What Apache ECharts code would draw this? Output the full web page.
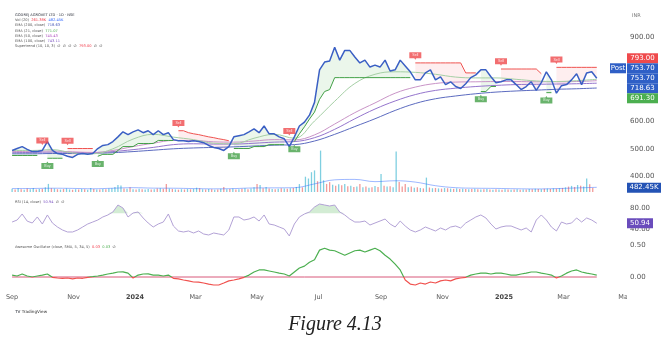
<!DOCTYPE html>
<html>
<head>
<meta charset="utf-8">
<title>GODREJ AGROVET</title>
<script src="https://cdn.jsdelivr.net/npm/echarts@6/dist/echarts.min.js"></script>
<style>
html,body{margin:0;padding:0;background:#ffffff;}
#chart{width:670px;height:355px;}
</style>
</head>
<body>
<div id="chart"></div>
<script>
// ================= DATA =================
const axisStart = '2023-08-20';
const axisEnd = '2025-05-02';
const tickDates = ['2023-09-01','2023-11-01','2024-01-01','2024-03-01','2024-05-01','2024-07-01','2024-09-01','2024-11-01','2025-01-01','2025-03-01','2025-05-01'];
const tickLabels = ['Sep','Nov','2024','Mar','May','Jul','Sep','Nov','2025','Mar','May'];

const sampleStart = '2023-09-01';
const priceStepDays = 5;
const price = [
 494,501,508,498,490,490,494,526,494,483,
 480,473,469,480,483,480,483,501,512,515,
 526,543,561,551,561,568,558,565,551,565,
 551,558,533,529,529,526,529,526,522,512,
 505,501,494,508,543,547,551,561,572,558,
 582,554,554,543,536,508,543,582,596,621,
 667,784,812,816,865,819,854,854,830,809,
 819,794,801,794,819,780,784,819,798,777,
 748,748,773,784,748,759,731,741,724,717,
 734,756,766,784,784,759,738,741,748,748,
 731,713,724,741,710,738,777,748,700,727,
 731,748,770,731,773,777,753.7
];
const stUp = [
 476,476,476,476,476,476,null,466,466,466,
 466,null,null,null,null,null,null,473,480,480,
 480,494,508,508,508,519,519,519,519,530,
 530,530,530,null,null,null,null,null,null,null,
 null,null,null,null,501,501,501,501,508,508,
 508,515,515,515,515,null,526,554,579,607,
 632,678,706,713,756,756,756,756,756,756,
 756,756,756,756,756,756,756,756,756,756,
 null,null,null,null,null,null,null,null,null,null,
 null,null,null,706,706,724,724,null,null,null,
 null,null,null,null,null,null,702,702,null,null,
 null,null,null,null,null,null,null
];
const stDown = [
 null,null,null,null,null,null,502,null,null,null,
 null,501,501,501,501,501,501,null,null,null,
 null,null,null,null,null,null,null,null,null,null,
 null,null,null,565,565,558,554,551,547,543,
 540,536,533,529,null,null,null,null,null,null,
 null,null,null,null,null,536,null,null,null,null,
 null,null,null,null,null,null,null,null,null,null,
 null,null,null,null,null,null,null,null,null,null,
 809,809,809,809,809,809,809,809,809,809,
 773,773,773,null,null,null,null,787,787,787,
 787,787,787,787,787,770,null,null,793,793,
 793,793,793,793,793,793,793
];
const sellIdx = [6, 11, 33, 55, 80, 97, 108];
const buyIdx = [7, 17, 44, 56, 93, 106];

const emaStepDays = 20;
const ema21  = [494,494,497,485,482,500,535,552,542,533,520,518,538,552,538,600,671,735,768,777,775,768,758,755,755,750,744,742,745,750];
const ema50  = [490,491,492,489,487,494,508,520,530,530,525,524,528,533,532,550,589,630,665,700,722,735,740,741,742,742,741,741,742,745];
const ema100 = [486,487,488,487,486,490,497,505,515,518,517,517,520,524,526,540,570,608,643,672,695,710,718,724,728,731,732,733,734,736];
const ema200 = [482,482,483,483,484,486,490,495,500,503,505,507,510,513,515,528,552,580,608,638,663,680,690,698,704,708,711,714,716,718.63];

const volStepDays = 3;
// volume in thousands; sign gives bar colour (+ up day, - down day)
const volume = [
 350,-280,420,-300,260,-380,310,450,-290,330,
 -360,520,900,-420,380,-310,270,-330,400,290,
 -250,310,-280,340,-300,260,450,-320,280,-270,
 330,-300,380,420,560,780,720,-400,350,-520,
 300,-280,360,-310,290,330,-270,310,-380,420,
 -350,-880,380,-330,290,-260,310,-280,330,-300,
 360,480,-420,300,-280,330,-310,260,-290,350,
 -560,300,-330,380,-290,310,-350,420,-300,380,
 520,-900,780,-420,560,-380,330,-300,360,-420,
 380,-360,420,-450,560,880,-520,1700,1500,2200,
 2400,-1200,4600,1300,-900,-1100,800,-700,850,-750,
 900,-650,700,-560,620,-880,540,-600,480,-520,
 680,-560,2000,-700,600,-650,520,4500,-1100,-600,
 -880,520,-600,480,-520,450,-400,1600,-500,420,
 -450,400,-380,440,-420,380,-350,400,-330,360,
 -320,300,-340,360,-300,280,-310,330,-290,260,
 -300,280,-260,300,-280,250,-270,310,-260,290,
 -280,320,-300,350,-330,310,-360,380,-340,400,
 -380,420,-450,520,-600,680,-560,780,-700,600,
 1500,-850,-482.45
];
const volMA = [380,390,420,400,360,420,480,430,420,380,350,380,450,460,480,900,1350,1400,1150,1250,1100,700,480,420,400,360,340,380,450,520];

const rsi = [
 53.3,57.1,68.6,55,51.4,62.9,49.5,66.7,51.4,43.8,
 38.1,34.3,34.3,38.1,43.8,49.5,53.3,57.1,62.9,66.7,
 72.4,85.7,80,62.9,70.5,72.4,61,51.4,43.8,49.5,
 53.3,68.6,45.7,36.2,34.3,36.2,32.4,36.2,30.5,28.6,
 32.4,30.5,28.6,38.1,62.9,62.9,57.1,59,62.9,55.2,
 66.7,49.5,47.6,43.8,40,26.7,49.5,62.9,68.6,72.4,
 81.9,87.6,85.7,83.8,85.7,72.4,66.7,59,53.3,53.3,
 55.2,47.6,51.4,55.2,59,49.5,43.8,55.2,45.7,38.1,
 34.3,38.1,43.8,40,36.2,41.9,38.1,43.8,45.7,41.9,
 51.4,57.1,62.9,66.7,61,49.5,40,43.8,45.7,45.7,
 41.9,38.1,41.9,34.3,57.1,66.7,57.1,43.8,36.2,53.3,
 49.5,51.4,61,53.3,61,57.1,50.94
];
const ao = [
 0.03,0.016,0.047,0.016,0.0,0.016,0.03,0.047,-0.005,-0.016,
 -0.02,-0.016,-0.03,-0.016,-0.02,-0.005,0.005,0.016,0.03,0.047,
 0.06,0.078,0.08,0.06,-0.016,0.03,0.047,0.05,0.03,0.03,
 0.016,0.03,-0.02,-0.03,-0.047,-0.06,-0.078,-0.08,-0.094,-0.11,
 -0.125,-0.125,-0.094,-0.06,-0.047,-0.03,-0.005,0.03,0.078,0.11,
 0.11,0.094,0.078,0.06,0.047,0.016,0.078,0.14,0.17,0.23,
 0.27,0.42,0.45,0.42,0.41,0.375,0.34,0.375,0.41,0.42,
 0.39,0.42,0.45,0.41,0.34,0.28,0.2,0.11,-0.047,-0.11,
 -0.125,-0.094,-0.11,-0.078,-0.094,-0.06,-0.047,-0.06,-0.03,-0.016,
 -0.005,0.03,0.047,0.06,0.06,0.047,0.06,0.06,0.047,0.03,
 0.03,0.047,0.06,0.078,0.078,0.06,0.047,0.03,-0.016,0.016,
 0.06,0.094,0.11,0.078,0.06,0.047,0.03
];
const aoZeroLevel = 0;

const priceTickLabels = ['400.00','500.00','600.00','900.00'];
const rsiTickLabels = ['40.00','80.00'];
const aoTickLabels = ['0.00','0.50'];

const priceMarkers = [
 {text:'793.00', value:793.00, color:'#ef4a4c'},
 {text:'753.70', value:753.70, color:'#2f5fc6', tag:'Post'},
 {text:'753.70', value:753.70, color:'#2f5fc6', anchor:true},
 {text:'718.63', value:718.63, color:'#2f5fc6'},
 {text:'691.30', value:691.30, color:'#4caf50'}
];
const volLast = {text:'482.45K', value:482.45, color:'#2453b5'};
const rsiLast = {text:'50.94', value:50.94, color:'#6a4cbc'};

const legendRows = [
 [['GODREJ AGROVET LTD · 1D · NSE','#2a2e39']],
 [['Vol (20)  ','#555'],['261.38K','#f23645'],['  482.45K','#2962ff']],
 [['EMA (200, close)  ','#555'],['718.63','#3f51b5']],
 [['EMA (21, close)  ','#555'],['771.07','#4caf50']],
 [['EMA (50, close)  ','#555'],['745.43','#ab47bc']],
 [['EMA (100, close)  ','#555'],['743.11','#7e57c2']],
 [['Supertrend (10, 10, 3)  ∅  ∅  ∅  ∅  ','#555'],['793.00','#f23645'],['  ∅  ∅','#555']]
];
const rsiLegend = [['RSI (14, close)  ','#555'],['50.94','#7e57c2'],['  ∅  ∅','#555']];
const aoLegend = [['Awesome Oscillator (close, SMA, 5, 34, 5)  ','#555'],['0.03','#f23645'],['  0.03','#4caf50'],['  ∅','#555']];

// ================= BUILD =================
const DAY = 86400000;
function parseD(s){const p=s.split('-').map(Number);return Date.UTC(p[0],p[1]-1,p[2]);}
function fmtD(t){const d=new Date(t);return d.getUTCFullYear()+'-'+String(d.getUTCMonth()+1).padStart(2,'0')+'-'+String(d.getUTCDate()).padStart(2,'0');}
const cats=[];
for(let t=parseD(axisStart);t<=parseD(axisEnd);t+=DAY)cats.push(fmtD(t));
const idxOf = s => Math.round((parseD(s)-parseD(axisStart))/DAY);
const base = idxOf(sampleStart);
const px = k => base + k*priceStepDays;
const ex = j => base + j*emaStepDays;
const vx = k => base + k*volStepDays;

const priceData = price.map((v,k)=>[px(k),v]);
const upBase = stUp.map((v,k)=>[px(k), v==null?null:v]);
const upBand = stUp.map((v,k)=>[px(k), v==null?null:price[k]-v]);
const dnBase = stDown.map((v,k)=>[px(k), v==null?null:price[k]]);
const dnBand = stDown.map((v,k)=>[px(k), v==null?null:v-price[k]]);
const sellData = sellIdx.map(k=>[px(k), stDown[k]]);
const buyData = buyIdx.map(k=>[px(k), stUp[k]]);
const emaSer = arr => arr.map((v,j)=>[ex(j),v]);
const volData = volume.map((v,k)=>({value:[vx(k),Math.abs(v)], itemStyle:{color: v>=0 ? '#7fcfe0' : '#f29a98'}}));
const volMAData = volMA.map((v,j)=>[ex(j),v]);
const rsiData = rsi.map((v,k)=>[px(k),v]);
const rsiObBase = rsi.map((v,k)=>[px(k),70]);
const rsiObBand = rsi.map((v,k)=>[px(k),Math.max(0,v-70)]);
const aoData = ao.map((v,k)=>[px(k),v]);
const aoZero = [[px(0),aoZeroLevel],[px(ao.length-1),aoZeroLevel]];

const G = {left:0, right:44, outerBoundsMode:'none', containLabel:false};
const hiddenY = {axisLine:{show:false}, axisTick:{show:false}, splitLine:{show:false}};

function lineS(name, data, color, xi, extra){
  return Object.assign({name, type:'line', data, xAxisIndex:xi, yAxisIndex:xi, symbol:'none',
    lineStyle:{color, width:1}, silent:true}, extra||{});
}

const option = {
  animation:false,
  backgroundColor:'#ffffff',
  grid:[
    Object.assign({top:9.8, height:194.6}, G),
    Object.assign({top:120, height:72}, G),
    Object.assign({top:197.5, height:42}, G),
    Object.assign({top:238.6, height:51.2}, G)
  ],
  xAxis:[0,1,2,3].map(i=>({
    type:'category', gridIndex:i, data:cats, boundaryGap:false,
    axisLine:{show:false}, axisTick:{show:false}, splitLine:{show:false},
    axisLabel: i===3 ? {
      show:true, interval:(idx,val)=>tickDates.indexOf(val)>=0, margin:4,
      fontSize:6.5, color:'#555', fontFamily:'DejaVu Sans',
      formatter:(val)=>{const l=tickLabels[tickDates.indexOf(val)]||'';return /^\d/.test(l)?'{y|'+l+'}':l;},
      rich:{y:{fontWeight:'bold', fontSize:6.5, color:'#444', fontFamily:'DejaVu Sans'}}
    } : {show:false}
  })),
  yAxis:[
    Object.assign({type:'value', gridIndex:0, position:'right', min:300, max:1000, interval:100,
      axisLabel:{margin:4, fontSize:7, color:'#555', fontFamily:'DejaVu Sans',
        formatter:v=>priceTickLabels.indexOf(v.toFixed(2))>=0?v.toFixed(2):''}}, hiddenY),
    Object.assign({type:'value', gridIndex:1, position:'right', min:0, max:8000, axisLabel:{show:false}}, hiddenY),
    Object.assign({type:'value', gridIndex:2, position:'right', min:20, max:100, interval:20,
      axisLabel:{margin:4, fontSize:7, color:'#555', fontFamily:'DejaVu Sans',
        formatter:v=>rsiTickLabels.indexOf(v.toFixed(2))>=0?v.toFixed(2):''}}, hiddenY),
    Object.assign({type:'value', gridIndex:3, position:'right', min:-0.2, max:0.6, interval:0.1,
      axisLabel:{margin:4, fontSize:7, color:'#555', fontFamily:'DejaVu Sans',
        formatter:v=>{const s=(Math.round(v*100)/100).toFixed(2);return aoTickLabels.indexOf(s)>=0?s:'';}}}, hiddenY)
  ],
  series:[
    // 0 volume
    {type:'bar', data:volData, xAxisIndex:1, yAxisIndex:1, barWidth:1.3, silent:true},
    // 1 volume MA
    lineS('volMA', volMAData, 'rgba(41,98,255,0.45)', 1, {smooth:0.4}),
    // 2-5 EMAs
    lineS('EMA200', emaSer(ema200), '#5c6bc0', 0, {smooth:0.4}),
    lineS('EMA100', emaSer(ema100), '#9575cd', 0, {smooth:0.4}),
    lineS('EMA50', emaSer(ema50), '#c994c7', 0, {smooth:0.4}),
    lineS('EMA21', emaSer(ema21), '#a5cfa5', 0, {smooth:0.4}),
    // 6-7 supertrend up (green line + fill to price)
    lineS('stUpLine', upBase, '#43a047', 0, {stack:'up', connectNulls:false}),
    lineS('stUpFill', upBand, 'rgba(0,0,0,0)', 0, {stack:'up', connectNulls:false, lineStyle:{width:0, opacity:0}, areaStyle:{color:'rgba(76,175,80,0.16)'}}),
    // 8-9 supertrend down (invisible base at price + red line with fill)
    lineS('stDnBase', dnBase, 'rgba(0,0,0,0)', 0, {stack:'dn', connectNulls:false, lineStyle:{width:0, opacity:0}}),
    lineS('stDnLine', dnBand, '#ef5350', 0, {stack:'dn', connectNulls:false, areaStyle:{color:'rgba(242,54,69,0.12)'}}),
    // 10 price
    lineS('price', priceData, '#3a5fc4', 0, {lineStyle:{color:'#3a5fc4', width:1.5}, z:5}),
    // 11 sell labels
    {type:'scatter', data:sellData, xAxisIndex:0, yAxisIndex:0, silent:true, z:6,
      symbol:'path://M0,0H24V12H14L12,15L10,12H0Z', symbolSize:[12,7.5], symbolOffset:[0,-7],
      itemStyle:{color:'#ef4a4c'},
      label:{show:true, position:'inside', formatter:'Sell', fontSize:3.6, color:'#fff', offset:[0,-0.8]}},
    // 12 buy labels
    {type:'scatter', data:buyData, xAxisIndex:0, yAxisIndex:0, silent:true, z:6,
      symbol:'path://M0,3H10L12,0L14,3H24V15H0Z', symbolSize:[12,7.5], symbolOffset:[0,7],
      itemStyle:{color:'#43a047'},
      label:{show:true, position:'inside', formatter:'Buy', fontSize:3.6, color:'#fff', offset:[0,0.8]}},
    // 13 RSI
    lineS('rsi', rsiData, '#b3a2d6', 2),
    // 14-15 RSI overbought fill
    lineS('rsiObBase', rsiObBase, 'rgba(0,0,0,0)', 2, {stack:'ob', lineStyle:{width:0, opacity:0}}),
    lineS('rsiObBand', rsiObBand, 'rgba(0,0,0,0)', 2, {stack:'ob', lineStyle:{width:0, opacity:0}, areaStyle:{color:'rgba(76,175,80,0.35)'}}),
    // 16 AO zero level
    lineS('aoZero', aoZero, '#d8587a', 3, {lineStyle:{color:'#d8587a', width:1}}),
    // 17 Awesome oscillator (colour set below: green above zero, red below)
    lineS('ao', aoData, '#4caf50', 3, {lineStyle:{width:1.2, color:'#4caf50'}, z:4})
  ]
};

const chart = echarts.init(document.getElementById('chart'), null, {renderer:'canvas'});
chart.setOption(option);

// AO colour split at the zero level (hard-stop gradient in pixel space)
const yTopAO = chart.convertToPixel({yAxisIndex:3}, 0.6);
const yBotAO = chart.convertToPixel({yAxisIndex:3}, -0.2);
const yZeroAO = chart.convertToPixel({yAxisIndex:3}, aoZeroLevel);
const f = (yZeroAO - yTopAO) / (yBotAO - yTopAO);
const aoGrad = new echarts.graphic.LinearGradient(0, yTopAO, 0, yBotAO, [
  {offset:0, color:'#4caf50'}, {offset:f, color:'#4caf50'},
  {offset:f, color:'#f0504d'}, {offset:1, color:'#f0504d'}
], true);
chart.setOption({series: option.series.map((s,i)=> i===17 ? {lineStyle:{color:aoGrad, width:1.2}} : {})});

// ---- annotations: legends, price-scale labels, caption ----
const g = [];
const FONT = '"DejaVu Sans"';
function richText(parts, x, y, size){
  const rich = {}; let txt='';
  parts.forEach((p,i)=>{rich['s'+i]={fill:p[1], font:size+'px '+FONT}; txt+='{s'+i+'|'+p[0]+'}';});
  g.push({type:'text', x:x, y:y, z:100, silent:true,
    style:{text:txt, rich:rich, font:size+'px '+FONT, align:'left', textAlign:'left', verticalAlign:'middle', textVerticalAlign:'middle'}});
}
legendRows.forEach((row,i)=>richText(row, 15, 15+5.2*i, 3.6));
richText(rsiLegend, 15, 202, 3.6);
richText(aoLegend, 15, 247, 3.6);

function box(y, txt, color, x, w){
  g.push({type:'rect', z:100, silent:true, shape:{x:x, y:y-5, width:w, height:10}, style:{fill:color}});
  g.push({type:'text', z:101, silent:true, x:x+w/2, y:y,
    style:{text:txt, fill:'#ffffff', font:'7px '+FONT, align:'center', textAlign:'center', verticalAlign:'middle', textVerticalAlign:'middle'}});
}
// white cover for the price-scale column under the last time label
g.push({type:'rect', z:90, silent:true, shape:{x:627, y:290, width:43, height:16}, style:{fill:'#ffffff'}});

const py = v => chart.convertToPixel({yAxisIndex:0}, v);
const ys = priceMarkers.map(m=>py(m.value));
const a = priceMarkers.findIndex(m=>m.anchor);
for(let i=a-1;i>=0;i--) ys[i]=Math.min(ys[i], ys[i+1]-10);
for(let i=a+1;i<priceMarkers.length;i++) ys[i]=Math.max(ys[i], ys[i-1]+10);
priceMarkers.forEach((m,i)=>{
  box(ys[i], m.text, m.color, 627, 31);
  if(m.tag) box(ys[i], m.tag, m.color, 610, 16);
});
box(chart.convertToPixel({yAxisIndex:1}, volLast.value), volLast.text, volLast.color, 627, 34);
box(chart.convertToPixel({yAxisIndex:2}, rsiLast.value), rsiLast.text, rsiLast.color, 627, 26);

g.push({type:'text', z:100, silent:true, x:632, y:16,
  style:{text:'INR', fill:'#777', font:'5px '+FONT, verticalAlign:'middle', textVerticalAlign:'middle'}});
richText([['TV ','#131722'],['TradingView','#333']], 15, 312, 4.2);
g.push({type:'text', z:100, silent:true, x:335, y:325,
  style:{text:'Figure 4.13', fill:'#222', font:'italic 20px "Liberation Serif"', align:'center', textAlign:'center', verticalAlign:'middle', textVerticalAlign:'middle'}});

chart.setOption({graphic:{elements:g}});
</script>
</body>
</html>
